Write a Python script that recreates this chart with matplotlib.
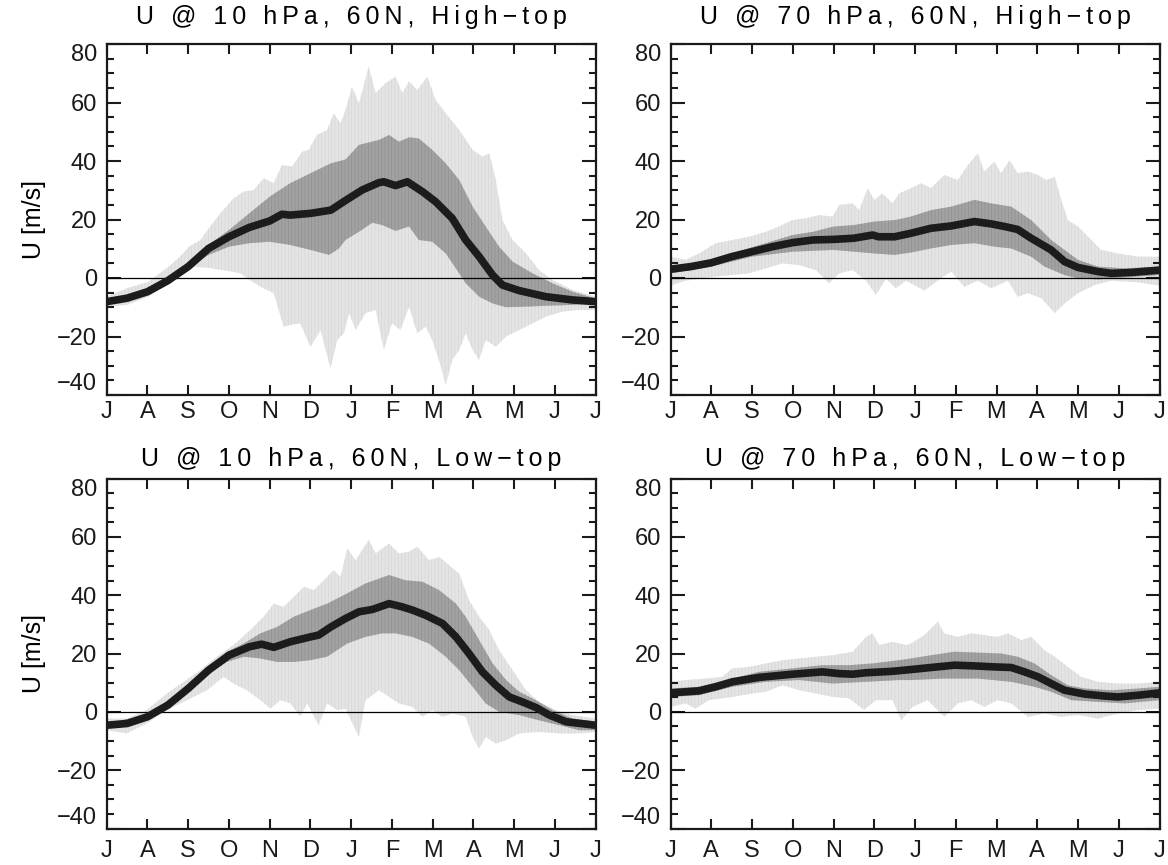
import matplotlib
matplotlib.use("Agg")
import matplotlib.pyplot as plt
import numpy as np

plt.rcParams['font.family'] = ['Liberation Sans', 'DejaVu Sans']
plt.rcParams['hatch.linewidth'] = 0.5

# x positions are months since 1 July (0 .. 12), values in m/s
MONTHS = ['J', 'A', 'S', 'O', 'N', 'D', 'J', 'F', 'M', 'A', 'M', 'J', 'J']
TITLES = ['U @ 10 hPa, 60N, High\u2212top', 'U @ 70 hPa, 60N, High\u2212top',
          'U @ 10 hPa, 60N, Low\u2212top', 'U @ 70 hPa, 60N, Low\u2212top']

# ---- 10 hPa, high-top ----
hi10_mean = [(0, -8.1), (0.5, -6.9), (1, -4.7), (1.5, -0.9), (2, 3.9), (2.5, 10.1), (3, 14.1),
             (3.5, 17.3), (4, 19.5), (4.3, 21.8), (4.5, 21.5), (5, 22.1), (5.5, 23.2), (5.86, 26.5),
             (6.27, 30.1), (6.68, 32.6), (6.8, 32.9), (7.09, 31.6), (7.38, 32.9), (7.75, 29.5),
             (8.07, 26.1), (8.48, 20.4), (8.81, 13.0), (9.14, 7.3), (9.47, 1.0), (9.71, -2.4),
             (10.12, -4.3), (10.78, -6.4), (11.43, -7.5), (12, -8.1)]
hi10_iqr_hi = [(0, -7.5), (1, -4.2), (2, 4.8), (2.5, 11.3), (3, 16.4), (3.5, 22.1), (4, 27.8),
               (4.5, 32.4), (5, 35.8), (5.5, 39.2), (5.86, 40.5), (6.19, 45.5), (6.68, 47.2),
               (6.93, 48.9), (7.17, 46.6), (7.42, 48.1), (7.66, 47.7), (7.99, 43.8), (8.32, 39.2),
               (8.65, 33.5), (8.98, 24.4), (9.3, 17.6), (9.63, 10.7), (9.96, 5.6), (10.45, 1.6),
               (10.94, -1.8), (11.43, -4.7), (12, -7.0)]
hi10_iqr_lo = [(0, -8.7), (1, -5.3), (2, 3.3), (2.5, 7.9), (3, 10.7), (3.5, 11.9), (4, 12.4),
               (4.5, 11.3), (5, 9.6), (5.46, 7.9), (5.7, 10.1), (5.86, 13.0), (6.19, 15.8),
               (6.52, 18.9), (6.76, 18.1), (7.09, 16.1), (7.42, 17.6), (7.66, 13.0), (7.99, 12.4),
               (8.32, 8.4), (8.65, 1.6), (8.81, -1.8), (9.14, -6.4), (9.47, -8.7), (9.8, -10.0),
               (10.29, -9.8), (10.78, -9.5), (11.43, -9.2), (12, -8.7)]
hi10_max = [(0, -6.4), (0.5, -3.5), (1.02, -1.3), (1.52, 3.9), (1.8, 7.3), (2.02, 10.7), (2.3, 13.0),
            (2.54, 17.6), (2.79, 22.1), (3.11, 27.2), (3.36, 29.5), (3.61, 30.1), (3.85, 34.1),
            (4.1, 32.4), (4.3, 38.6), (4.55, 38.1), (4.8, 43.2), (4.96, 43.8), (5.16, 48.9),
            (5.41, 50.6), (5.57, 56.3), (5.74, 52.9), (5.86, 57.4), (6.02, 65.4), (6.19, 59.7),
            (6.43, 72.3), (6.6, 63.2), (6.84, 66.6), (7.09, 68.8), (7.25, 63.2), (7.42, 67.2),
            (7.62, 64.3), (7.87, 68.8), (8.07, 60.9), (8.32, 56.3), (8.65, 50.6), (8.98, 43.8),
            (9.22, 41.5), (9.39, 42.6), (9.55, 33.5), (9.71, 19.8), (9.96, 13.0), (10.29, 8.4),
            (10.61, 2.7), (10.94, -0.7), (11.43, -4.1), (12, -6.4)]
hi10_min = [(0, -9.8), (0.5, -9.2), (1.02, -6.4), (1.48, -2.4), (1.8, 1.6), (2.13, 3.9), (2.46, 3.5),
            (2.95, 2.5), (3.28, 1.6), (3.52, -0.7), (3.77, -3.0), (4.1, -5.2), (4.34, -16.6),
            (4.51, -16.0), (4.75, -15.5), (5.0, -23.5), (5.25, -17.8), (5.49, -30.9), (5.66, -21.2),
            (5.82, -18.9), (5.95, -12.0), (6.11, -17.8), (6.35, -12.0), (6.6, -10.9), (6.8, -24.6),
            (7.0, -15.5), (7.21, -17.8), (7.42, -9.8), (7.62, -18.9), (7.83, -16.6), (7.99, -21.2),
            (8.2, -30.3), (8.32, -36.6), (8.48, -28.0), (8.65, -24.6), (8.81, -18.9), (8.98, -24.6),
            (9.14, -28.0), (9.3, -21.2), (9.55, -23.5), (9.8, -20.0), (10.12, -17.8), (10.45, -15.5),
            (10.78, -13.2), (11.19, -11.5), (11.6, -10.9), (12, -10.9)]

# ---- 70 hPa, high-top ----
hi70_mean = [(0, 3.0), (0.5, 3.9), (1, 5.2), (1.5, 7.3), (2, 9.0), (2.5, 10.7), (3, 12.1), (3.5, 13.0),
             (4, 13.2), (4.5, 13.6), (4.96, 14.7), (5.1, 14.1), (5.5, 14.1), (5.9, 15.3), (6.39, 17.0),
             (6.89, 17.8), (7.46, 19.3), (7.87, 18.5), (8.2, 17.6), (8.52, 16.6), (8.85, 13.6),
             (9.34, 9.6), (9.67, 5.6), (10.0, 3.6), (10.49, 2.2), (10.82, 1.6), (11.31, 1.9), (12, 2.7)]
hi70_iqr_hi = [(0, 3.9), (1, 6.2), (2, 10.5), (3, 14.7), (3.5, 15.8), (4, 17.6), (4.5, 18.1), (5, 19.3),
               (5.5, 19.8), (5.9, 21.0), (6.39, 23.2), (6.89, 24.4), (7.46, 26.7), (7.87, 25.5),
               (8.36, 24.4), (8.85, 19.8), (9.34, 13.0), (9.67, 9.6), (10.0, 6.2), (10.49, 3.9),
               (11.15, 3.3), (12, 3.9)]
hi70_iqr_lo = [(0, 1.6), (1, 3.9), (2, 7.3), (3, 9.0), (3.5, 9.3), (4, 9.6), (4.5, 9.0), (5, 8.4),
               (5.5, 7.9), (5.9, 8.7), (6.39, 10.1), (6.89, 11.3), (7.46, 11.9), (7.95, 10.7),
               (8.36, 10.1), (8.85, 7.3), (9.18, 3.9), (9.67, 1.0), (10.0, -0.1), (10.49, -0.5),
               (11.15, 0.2), (12, 1.0)]
hi70_max = [(0, 7.3), (0.37, 6.2), (0.7, 8.4), (1.11, 11.9), (1.52, 13.0), (1.93, 14.1), (2.34, 15.8),
            (2.66, 17.6), (2.99, 19.8), (3.32, 20.4), (3.65, 21.5), (3.98, 21.0), (4.14, 25.0),
            (4.47, 25.5), (4.63, 23.2), (4.84, 30.7), (5.0, 26.7), (5.2, 28.9), (5.45, 25.5),
            (5.61, 28.9), (5.9, 30.7), (6.15, 32.4), (6.39, 30.7), (6.72, 35.2), (7.05, 33.5),
            (7.3, 38.6), (7.54, 42.6), (7.7, 36.4), (7.95, 39.8), (8.11, 35.8), (8.32, 40.3),
            (8.52, 35.8), (8.77, 36.4), (9.02, 35.2), (9.22, 33.5), (9.43, 34.6), (9.59, 26.7),
            (9.75, 19.8), (10.0, 17.6), (10.25, 14.1), (10.57, 9.6), (10.98, 8.4), (11.48, 7.3),
            (12, 7.3)]
hi70_min = [(0, -2.6), (0.37, -0.9), (0.7, -0.3), (1.11, 0.5), (1.52, 1.0), (1.93, 1.6), (2.34, 3.3),
            (2.75, 5.0), (3.16, 4.4), (3.57, 2.7), (3.89, -1.8), (4.14, 1.6), (4.47, 2.7), (4.8, -0.9),
            (5.04, -5.8), (5.29, -0.3), (5.53, -3.5), (5.78, -0.9), (6.23, -4.3), (6.56, -0.9),
            (6.89, 2.2), (7.21, -3.0), (7.54, -0.9), (7.87, -3.5), (8.28, -0.9), (8.52, -6.4),
            (8.77, -5.2), (9.1, -6.9), (9.43, -12.0), (9.67, -8.7), (10.0, -5.2), (10.41, -2.4),
            (10.82, -0.9), (11.48, -1.5), (12, -2.6)]

# ---- 10 hPa, low-top ----
lo10_mean = [(0, -4.6), (0.5, -4.0), (1, -1.7), (1.5, 2.3), (2, 8.0), (2.5, 14.3), (3, 19.4),
             (3.5, 22.3), (3.8, 23.2), (4.1, 22.1), (4.5, 24.0), (5, 25.7), (5.2, 26.3), (5.5, 29.1),
             (5.86, 32.0), (6.19, 34.3), (6.52, 35.1), (6.93, 37.1), (7.25, 36.0), (7.5, 34.9),
             (7.83, 33.1), (8.24, 30.3), (8.57, 25.7), (8.89, 20.0), (9.22, 13.7), (9.55, 9.1),
             (9.88, 5.1), (10.2, 3.4), (10.53, 1.5), (10.86, -1.1), (11.27, -3.4), (12, -4.6)]
lo10_iqr_hi = [(0, -4.0), (1, -1.0), (2, 8.8), (2.5, 14.9), (2.95, 20.6), (3.36, 23.4), (3.77, 26.9),
               (4.18, 29.1), (4.59, 32.6), (5.0, 34.9), (5.41, 37.1), (5.9, 40.6), (6.35, 44.0),
               (6.93, 46.9), (7.34, 45.1), (7.75, 44.6), (8.16, 41.7), (8.57, 37.1), (8.81, 32.6),
               (9.14, 24.6), (9.47, 16.6), (9.8, 10.9), (10.12, 6.9), (10.53, 4.0), (10.94, 0.6),
               (11.43, -2.3), (12, -3.4)]
lo10_iqr_lo = [(0, -5.3), (1, -2.5), (2, 7.4), (2.5, 13.1), (2.95, 17.1), (3.36, 18.9), (3.77, 18.3),
               (4.18, 17.1), (4.59, 17.1), (5.0, 17.7), (5.41, 18.9), (5.9, 23.4), (6.35, 25.7),
               (6.76, 26.9), (7.09, 26.9), (7.5, 25.7), (7.91, 23.4), (8.32, 18.9), (8.65, 14.3),
               (8.98, 8.6), (9.3, 2.9), (9.63, 0.0), (10.12, -1.1), (10.61, -2.9), (11.11, -4.6),
               (11.6, -6.3), (12, -6.3)]
lo10_max = [(0, -2.3), (0.5, -2.3), (0.98, 0.6), (1.48, 6.3), (1.89, 10.3), (2.3, 14.3), (2.7, 18.9),
            (3.11, 22.9), (3.52, 28.0), (3.85, 32.6), (4.1, 37.1), (4.34, 36.0), (4.59, 39.4),
            (4.84, 42.9), (5.08, 41.7), (5.33, 45.1), (5.57, 48.6), (5.74, 46.3), (5.9, 56.0),
            (6.11, 52.0), (6.43, 58.9), (6.6, 54.3), (6.93, 57.7), (7.17, 54.3), (7.42, 54.9),
            (7.62, 56.6), (7.91, 52.0), (8.16, 53.1), (8.4, 50.3), (8.65, 47.4), (8.89, 38.3),
            (9.14, 32.6), (9.39, 28.0), (9.63, 21.1), (9.96, 14.3), (10.29, 7.4), (10.61, 3.4),
            (11.02, 0.6), (11.43, -1.1), (12, -2.3)]
lo10_min = [(0, -6.3), (0.49, -7.4), (0.98, -4.0), (1.48, 0.6), (1.97, 4.0), (2.46, 7.4), (2.87, 12.0),
            (3.11, 9.7), (3.44, 7.4), (3.77, 4.0), (4.02, 1.1), (4.26, 4.0), (4.51, 2.9), (4.75, -1.7),
            (4.92, 2.9), (5.2, -4.6), (5.41, 2.9), (5.66, 0.6), (5.86, 1.1), (6.19, -8.6), (6.35, 4.0),
            (6.68, 7.4), (6.93, 5.1), (7.17, 2.9), (7.5, 1.7), (7.75, -1.7), (7.99, 0.6), (8.24, -1.7),
            (8.48, -0.6), (8.81, -1.7), (8.98, -8.6), (9.14, -12.6), (9.3, -8.6), (9.55, -10.9),
            (9.8, -9.7), (10.12, -7.4), (10.61, -6.9), (11.11, -7.4), (11.6, -7.4), (12, -6.9)]

# ---- 70 hPa, low-top ----
lo70_mean = [(0, 6.5), (0.7, 7.2), (1.11, 8.6), (1.52, 10.3), (2.17, 11.8), (2.99, 12.9), (3.73, 13.7),
             (4.14, 13.1), (4.47, 12.9), (4.8, 13.4), (5.45, 13.9), (5.9, 14.5), (6.39, 15.2),
             (6.97, 16.0), (7.54, 15.7), (7.95, 15.4), (8.36, 15.2), (8.69, 13.7), (9.02, 12.0),
             (9.34, 9.7), (9.67, 7.4), (10.16, 6.1), (10.66, 5.4), (10.98, 5.1), (11.48, 5.7), (12, 6.5)]
lo70_iqr_hi = [(0, 8.0), (0.7, 8.6), (1.52, 11.4), (2.17, 13.7), (2.99, 14.9), (3.73, 16.0), (4.39, 16.0),
               (4.96, 16.6), (5.61, 17.7), (5.9, 18.3), (6.39, 19.4), (6.97, 20.6), (7.54, 20.3),
               (8.11, 20.0), (8.52, 18.9), (8.93, 16.6), (9.34, 12.6), (9.75, 9.1), (10.16, 8.0),
               (10.82, 7.4), (11.48, 8.0), (12, 8.6)]
lo70_iqr_lo = [(0, 5.1), (0.7, 5.7), (1.52, 8.6), (2.34, 10.3), (3.16, 10.9), (3.98, 9.7), (4.8, 10.3),
               (5.61, 10.9), (5.9, 10.9), (6.72, 11.4), (7.54, 11.4), (8.36, 10.3), (8.93, 8.6),
               (9.34, 6.9), (9.84, 4.0), (10.49, 3.4), (11.15, 2.9), (12, 4.0)]
lo70_max = [(0, 10.3), (0.37, 10.9), (0.86, 11.4), (1.27, 12.0), (1.52, 14.9), (1.93, 15.4), (2.34, 16.6),
            (2.75, 17.7), (3.16, 18.3), (3.57, 18.9), (3.98, 19.4), (4.47, 20.6), (4.8, 25.7),
            (4.96, 26.9), (5.12, 22.9), (5.45, 24.0), (5.78, 22.9), (5.9, 23.4), (6.23, 26.3),
            (6.56, 30.9), (6.72, 26.9), (7.05, 25.7), (7.38, 26.9), (7.7, 26.3), (8.03, 25.7),
            (8.28, 26.9), (8.61, 24.6), (8.85, 25.7), (9.18, 21.1), (9.43, 18.9), (9.75, 15.4),
            (10.08, 12.0), (10.49, 10.3), (10.98, 9.7), (11.48, 9.7), (12, 10.3)]
lo70_min = [(0, 1.7), (0.37, 2.9), (0.61, 1.1), (0.94, 4.0), (1.52, 5.1), (2.01, 6.3), (2.34, 6.9),
            (2.75, 9.1), (3.16, 7.4), (3.57, 6.3), (3.98, 5.1), (4.39, 4.6), (4.75, 0.6), (5.04, 4.0),
            (5.45, 4.0), (5.66, -2.9), (5.94, 1.7), (6.31, 4.0), (6.72, -1.7), (7.05, 2.9), (7.38, 4.0),
            (7.7, 1.7), (8.03, 4.0), (8.36, 2.9), (8.77, -1.7), (9.18, -0.6), (9.59, -1.7), (10.0, -1.1),
            (10.49, -2.3), (10.98, -0.6), (11.48, 0.6), (12, 1.1)]

PANELS = [
    (hi10_mean, hi10_iqr_lo, hi10_iqr_hi, hi10_min, hi10_max),
    (hi70_mean, hi70_iqr_lo, hi70_iqr_hi, hi70_min, hi70_max),
    (lo10_mean, lo10_iqr_lo, lo10_iqr_hi, lo10_min, lo10_max),
    (lo70_mean, lo70_iqr_lo, lo70_iqr_hi, lo70_min, lo70_max),
]

LIGHT, LIGHT_STRIPE = '#e4e4e4', '#d6d6d6'
DARK, DARK_STRIPE = '#a2a2a2', '#8e8e8e'
LINE = '#1c1c1c'


def band(ax, lower, upper, color, stripe):
    lo = np.array(lower)
    hi = np.array(upper)
    xs = np.concatenate([hi[:, 0], lo[::-1, 0]])
    ys = np.concatenate([hi[:, 1], lo[::-1, 1]])
    ax.fill(xs, ys, facecolor=color, edgecolor=stripe, hatch='|||||', lw=0)


def spaced(text):
    # IDL-style wide letter spacing
    return '\u2009'.join(text)


fig = plt.figure(figsize=(11.68, 8.65), dpi=100)
W, H = 1168.0, 865.0
boxes = [(106.7, 44, 595.7, 395), (670.5, 44, 1159.5, 395),
         (106.7, 478.5, 595.7, 828.5), (670.5, 478.5, 1159.5, 828.5)]
title_pad = [14.5, 14.5, 9, 9]

for i, (mean, qlo, qhi, mn, mx) in enumerate(PANELS):
    x0, y0, x1, y1 = boxes[i]
    ax = fig.add_axes([x0 / W, 1 - y1 / H, (x1 - x0) / W, (y1 - y0) / H])

    band(ax, mn, mx, LIGHT, LIGHT_STRIPE)
    band(ax, qlo, qhi, DARK, DARK_STRIPE)
    ax.axhline(0, color='black', lw=0.9, zorder=3)
    m = np.array(mean)
    ax.plot(m[:, 0], m[:, 1], color=LINE, lw=5.5, solid_capstyle='butt', zorder=4)

    ax.set_xlim(0, 12)
    ax.set_ylim(-40, 80)
    ax.set_xticks(range(13), MONTHS)
    ax.set_yticks(range(-40, 81, 20))
    ax.set_yticks(range(-40, 81, 5), minor=True)
    ax.tick_params(axis='both', which='both', direction='in', top=True, right=True,
                   labelsize=17, width=1.5, colors='#1a1a1a')
    ax.tick_params(axis='y', which='major', length=10, pad=7)
    ax.tick_params(axis='y', which='minor', length=5)
    ax.tick_params(axis='x', which='major', length=7, pad=4 if i < 2 else 8)
    ticks = ax.yaxis.get_major_ticks()
    ticks[0].label1.set_va('bottom')
    ticks[-1].label1.set_va('top')
    for s in ax.spines.values():
        s.set_linewidth(1.6)
        s.set_color('#1a1a1a')

    ax.set_title(spaced(TITLES[i]), fontsize=18, pad=title_pad[i])
    if i % 2 == 0:
        ax.set_ylabel('U [m/s]', fontsize=18)
        ax.yaxis.set_label_coords(-0.125, 0.5)

fig.savefig('out.png', dpi=100)
